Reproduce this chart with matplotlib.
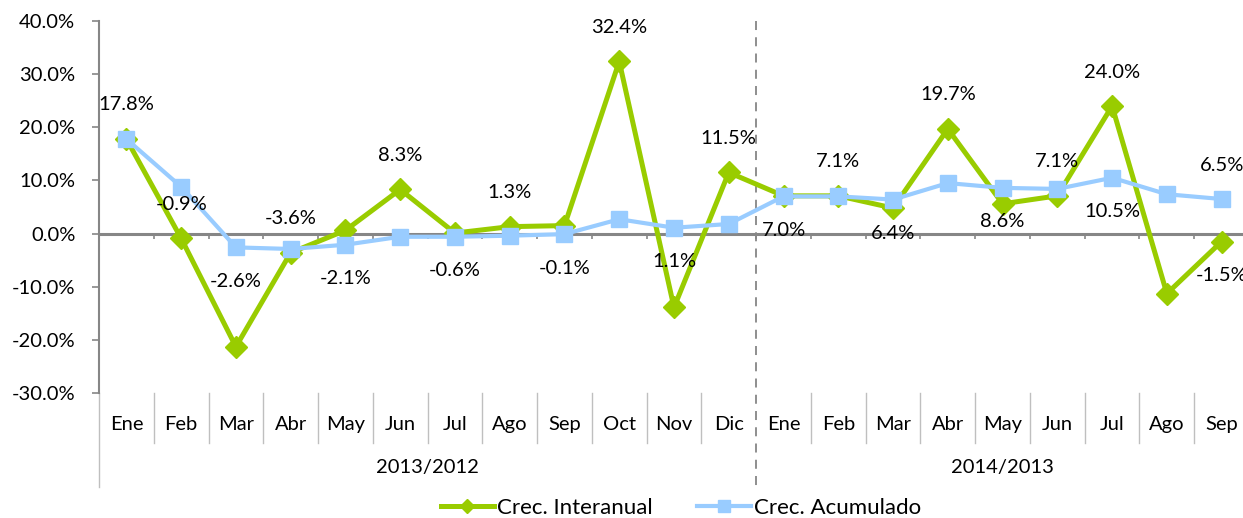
import numpy as np
import matplotlib
matplotlib.use('Agg')
import matplotlib.pyplot as plt
from matplotlib.transforms import blended_transform_factory
from matplotlib.lines import Line2D

plt.rcParams['font.family'] = ['Lato', 'DejaVu Sans']

months = ['Ene', 'Feb', 'Mar', 'Abr', 'May', 'Jun', 'Jul', 'Ago', 'Sep', 'Oct', 'Nov', 'Dic',
          'Ene', 'Feb', 'Mar', 'Abr', 'May', 'Jun', 'Jul', 'Ago', 'Sep']
periods = ['2013/2012', '2014/2013']
period_len = [12, 9]

interanual = [17.8, -0.9, -21.3, -3.6, 0.6, 8.3, 0.1, 1.3, 1.5, 32.4, -13.9, 11.5,
              7.1, 7.1, 4.8, 19.7, 5.6, 7.1, 24.0, -11.3, -1.5]
acumulado = [17.8, 8.8, -2.6, -2.9, -2.1, -0.6, -0.6, -0.4, -0.1, 2.7, 1.1, 1.8,
             7.0, 7.0, 6.4, 9.5, 8.6, 8.4, 10.5, 7.4, 6.5]

# which points carry a data label (index: +1 above / -1 below)
lab_inter = {0: 1, 1: 1, 3: 1, 5: 1, 7: 1, 9: 1, 11: 1, 13: 1, 15: 1, 17: 1, 18: 1, 20: -1}
lab_acum = {2: -1, 4: -1, 6: -1, 8: -1, 10: -1, 12: -1, 14: -1, 16: -1, 18: -1, 20: 1}

green = '#99CC00'
blue = '#99CCFF'
grey = '#868686'
fs = 14.5

fig = plt.figure(figsize=(12.43, 5.18), dpi=100)
ax = fig.add_axes([99 / 1243, 125 / 518, 1150 / 1243, 372 / 518])

x = np.arange(len(months))
ax.plot(x, interanual, color=green, lw=3.6, marker='D', ms=11, zorder=3)
ax.plot(x, acumulado, color=blue, lw=3.0, marker='s', ms=11, zorder=4)

for i, pos in lab_inter.items():
    ax.annotate(f'{interanual[i]:.1f}%', (x[i], interanual[i]), xytext=(0, 24.5 * pos),
                textcoords='offset points', ha='center', va='center', fontsize=fs, zorder=5)
for i, pos in lab_acum.items():
    ax.annotate(f'{acumulado[i]:.1f}%', (x[i], acumulado[i]), xytext=(0, 24.5 * pos),
                textcoords='offset points', ha='center', va='center', fontsize=fs, zorder=5)

ax.set_xlim(-0.5, len(months) - 0.5)
ax.set_ylim(-30, 40)
ax.set_yticks(np.arange(-30, 41, 10))
ax.set_yticklabels([f'{v:.1f}%' for v in np.arange(-30, 41, 10)], fontsize=fs)
ax.tick_params(axis='y', length=5, color=grey, width=1.2, pad=12)
ax.set_xticks([])
for s in ['top', 'right', 'bottom']:
    ax.spines[s].set_visible(False)
ax.spines['left'].set_color(grey)
ax.spines['left'].set_linewidth(1.5)

# horizontal axis at zero with category ticks
ax.axhline(0, color=grey, lw=2.2, zorder=2)
bounds = np.arange(-0.5, len(months))
ax.vlines(bounds[1:], -1.1, 0, color=grey, lw=1.2, zorder=2)

# category labels below the plot
tr = blended_transform_factory(ax.transData, ax.transAxes)
split = period_len[0] - 0.5
for b in bounds[1:-1]:
    if b != split:
        ax.plot([b, b], [0, -0.134], color='#BFBFBF', lw=1, transform=tr, clip_on=False)
ax.plot([-0.5, -0.5], [0, -0.253], color='#BFBFBF', lw=1, transform=tr, clip_on=False)
for i, m in enumerate(months):
    ax.text(i, -0.086, m, transform=tr, ha='center', va='center', fontsize=fs)
start = 0
for p, n in zip(periods, period_len):
    ax.text(start + (n - 1) / 2, -0.2, p, transform=tr, ha='center', va='center', fontsize=fs)
    start += n

# dashed divider between periods
ax.plot([split, split], [1.0, -0.253], color=grey, lw=1.3, ls=(0, (5, 4)),
        transform=tr, clip_on=False)

handles = [Line2D([], [], color=green, lw=3.6, marker='D', ms=7),
           Line2D([], [], color=blue, lw=3.0, marker='s', ms=9)]
fig.legend(handles, ['Crec. Interanual', 'Crec. Acumulado'], loc='center',
           bbox_to_anchor=(681 / 1243, 10 / 518), ncol=2, frameon=False, fontsize=16,
           handlelength=2.4, handletextpad=0.15, columnspacing=2.0,
           borderpad=0, borderaxespad=0)

fig.savefig('out.png', dpi=100)
